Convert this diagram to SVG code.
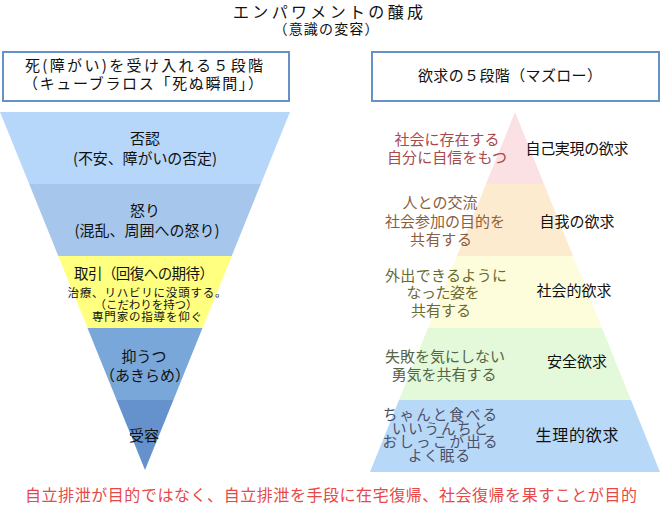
<svg xmlns="http://www.w3.org/2000/svg" width="661" height="508" viewBox="0 0 661 508">
<style>
text{font-family:"Noto Sans CJK JP","Noto Sans",sans-serif;text-anchor:middle;fill:#111}
.hdr{fill:#fff;stroke:#6690c8;stroke-width:2}
.t15{font-size:15px}
.t12{font-size:11.5px}
.t14{font-size:14.5px}
.r1{fill:#a84a4a}.r2{fill:#8a6040}.r3{fill:#6a6a30}.r4{fill:#566448}.r5{fill:#4a5068}
</style>
<rect width="661" height="508" fill="#fff"/>
<g id="title">
<text x="328" y="18" style="font-size:16px" textLength="190" lengthAdjust="spacing">エンパワメントの醸成</text>
<text x="326" y="34" style="font-size:14px" textLength="105" lengthAdjust="spacing">（意識の変容）</text>
</g>
<g id="left-header">
<rect class="hdr" x="3" y="52" width="286" height="49"/>
<text class="t15" x="144" y="71" textLength="238" lengthAdjust="spacing">死(障がい)を受け入れる５段階</text>
<text class="t15" x="143" y="89" textLength="240" lengthAdjust="spacing">（キューブラロス「死ぬ瞬間」）</text>
</g>
<g id="right-header">
<rect class="hdr" x="372" y="52" width="287" height="49"/>
<text class="t15" x="510" y="81" textLength="184" lengthAdjust="spacing">欲求の５段階（マズロー）</text>
</g>
<g id="stage-denial">
<polygon points="0,112 290,112 260.8,184 29.2,184" fill="#b7d7fa"/>
<text class="t15" x="145" y="144">否認</text>
<text class="t15" x="145" y="164" textLength="144" lengthAdjust="spacing">(不安、障がいの否定)</text>
</g>
<g id="stage-anger">
<polygon points="29.2,184 260.8,184 231.7,256 58.3,256" fill="#a6c6ec"/>
<text class="t15" x="145" y="216">怒り</text>
<text class="t15" x="147" y="236" textLength="145" lengthAdjust="spacing">(混乱、周囲への怒り)</text>
</g>
<g id="stage-bargaining">
<polygon points="58.3,256 231.7,256 202.5,328 87.5,328" fill="#ffff80"/>
<text style="font-size:14.5px" x="144" y="279" textLength="140" lengthAdjust="spacing">取引（回復への期待）</text>
<text class="t12" x="147" y="297" textLength="159" lengthAdjust="spacing">治療、リハビリに没頭する。</text>
<text class="t12" x="146" y="309" textLength="103" lengthAdjust="spacing">（こだわりを持つ）</text>
<text class="t12" x="147" y="321" textLength="110" lengthAdjust="spacing">専門家の指導を仰ぐ</text>
</g>
<g id="stage-depression">
<polygon points="87.5,328 202.5,328 173.4,400 116.6,400" fill="#79a7da"/>
<text class="t15" x="144" y="362">抑うつ</text>
<text class="t15" x="145" y="381">（あきらめ）</text>
</g>
<g id="stage-acceptance">
<polygon points="116.6,400 173.4,400 145,470" fill="#6592cc"/>
<text class="t15" x="144" y="441">受容</text>
</g>
<g id="need-self-actualization">
<polygon points="515,112 544,184 486,184" fill="#fbe0e4"/>
<text class="t15 r1" x="447" y="145" textLength="105" lengthAdjust="spacing">社会に存在する</text>
<text class="t15 r1" x="447" y="163" textLength="120" lengthAdjust="spacing">自分に自信をもつ</text>
<text class="t15" x="577" y="154" textLength="103" lengthAdjust="spacing">自己実現の欲求</text>
</g>
<g id="need-esteem">
<polygon points="486,184 544,184 573,256 457,256" fill="#fdebcf"/>
<text class="t15 r2" x="440" y="208" textLength="75" lengthAdjust="spacing">人との交流</text>
<text class="t15 r2" x="445" y="227" textLength="120" lengthAdjust="spacing">社会参加の目的を</text>
<text class="t15 r2" x="441" y="245" textLength="62" lengthAdjust="spacing">共有する</text>
<text class="t15" x="577" y="227" textLength="75" lengthAdjust="spacing">自我の欲求</text>
</g>
<g id="need-social">
<polygon points="457,256 573,256 602,328 428,328" fill="#fdfddc"/>
<text class="t15 r3" x="446" y="281" textLength="122" lengthAdjust="spacing">外出できるように</text>
<text class="t15 r3" x="443" y="298" textLength="73" lengthAdjust="spacing">なった姿を</text>
<text class="t15 r3" x="441" y="316" textLength="60" lengthAdjust="spacing">共有する</text>
<text class="t15" x="574" y="296" textLength="75" lengthAdjust="spacing">社会的欲求</text>
</g>
<g id="need-safety">
<polygon points="428,328 602,328 631,400 399,400" fill="#e3f9d9"/>
<text class="t15 r4" x="445" y="362" textLength="120" lengthAdjust="spacing">失敗を気にしない</text>
<text class="t15 r4" x="444" y="380" textLength="105" lengthAdjust="spacing">勇気を共有する</text>
<text class="t15" x="577" y="367" textLength="60" lengthAdjust="spacing">安全欲求</text>
</g>
<g id="need-physiological">
<polygon points="399,400 631,400 660,472 370,472" fill="#b8d8f8"/>
<text class="t14 r5" x="440" y="420" textLength="114" lengthAdjust="spacing">ちゃんと食べる</text>
<text class="t14 r5" x="440" y="433.5" textLength="96" lengthAdjust="spacing">いいうんちと</text>
<text class="t14 r5" x="440" y="447" textLength="115" lengthAdjust="spacing">おしっこが出る</text>
<text class="t14 r5" x="439" y="460.5" textLength="62" lengthAdjust="spacing">よく眠る</text>
<text style="font-size:16px" x="577" y="441" textLength="83" lengthAdjust="spacing">生理的欲求</text>
</g>
<g id="footer">
<text style="font-size:16px;fill:#e84848" x="331" y="501" textLength="612" lengthAdjust="spacing">自立排泄が目的ではなく、自立排泄を手段に在宅復帰、社会復帰を果すことが目的</text>
</g>
</svg>
